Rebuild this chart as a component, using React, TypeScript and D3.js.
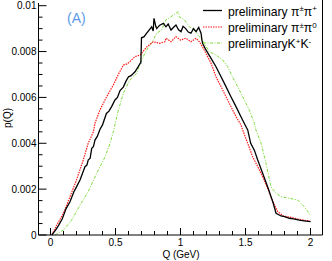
import React from "react";
import * as d3 from "d3";

// Q (GeV) and p(Q) for each series
const qPiPlus = [0.01,0.04,0.06,0.09,0.12,0.15,0.18,0.2,0.227,0.25,0.265,0.28,0.29,0.305,0.317,0.33,0.342,0.36,0.38,0.4,0.43,0.45,0.47,0.496,0.515,0.535,0.56,0.58,0.6,0.62,0.65,0.675,0.69,0.695,0.7,0.72,0.74,0.76,0.778,0.79,0.796,0.81,0.817,0.84,0.868,0.888,0.905,0.927,0.945,0.965,0.985,1.004,1.02,1.04,1.06,1.08,1.1,1.12,1.14,1.158,1.165,1.17,1.196,1.235,1.273,1.312,1.35,1.388,1.427,1.465,1.504,1.517,1.54,1.568,1.594,1.632,1.67,1.71,1.735,1.773,1.8,1.837,1.87,1.914,1.95,2.0];
const pPiPlus = [0,0.00022,0.0004,0.0007,0.00115,0.00145,0.00189,0.0021,0.0024,0.00275,0.00298,0.00305,0.00327,0.00335,0.00378,0.00385,0.00414,0.0043,0.0046,0.0048,0.0053,0.0054,0.0056,0.00589,0.006,0.0063,0.00645,0.0067,0.0069,0.00695,0.00712,0.00734,0.00749,0.0075,0.0086,0.00865,0.0088,0.00895,0.00908,0.0089,0.00945,0.0091,0.009,0.00915,0.00923,0.00908,0.0092,0.00894,0.00905,0.00916,0.00895,0.00887,0.0091,0.009,0.00885,0.0088,0.009,0.00887,0.00905,0.0088,0.0085,0.00836,0.00807,0.0077,0.00734,0.0069,0.00647,0.00603,0.0056,0.00516,0.00472,0.00458,0.004,0.0037,0.00327,0.00269,0.0021,0.00145,0.00095,0.00083,0.0008,0.00073,0.0007,0.00065,0.00062,0.00058];

const qPiZero = [0.01,0.05,0.1,0.15,0.2,0.252,0.29,0.33,0.342,0.38,0.432,0.483,0.52,0.56,0.585,0.61,0.65,0.69,0.74,0.79,0.84,0.88,0.888,0.927,0.965,1.0,1.04,1.08,1.12,1.145,1.17,1.196,1.235,1.273,1.312,1.35,1.388,1.427,1.465,1.478,1.517,1.555,1.594,1.632,1.67,1.71,1.748,1.79,1.85,1.914,2.0];
const pPiZero = [0,0.00045,0.00095,0.00167,0.0024,0.00327,0.004,0.0045,0.00487,0.00545,0.00603,0.00654,0.00698,0.00741,0.00745,0.00756,0.00778,0.00785,0.0082,0.00843,0.00836,0.00843,0.00858,0.00843,0.00865,0.0085,0.00858,0.00843,0.00858,0.00843,0.0082,0.00792,0.00749,0.0069,0.00647,0.00603,0.0056,0.00516,0.0048,0.00458,0.004,0.00341,0.00298,0.00254,0.00204,0.00145,0.00102,0.00083,0.00077,0.00068,0.0006];

const qKK = [0.035,0.1,0.163,0.227,0.29,0.355,0.42,0.458,0.483,0.52,0.56,0.61,0.663,0.7,0.74,0.778,0.817,0.855,0.888,0.927,0.965,0.983,0.99,1.03,1.068,1.106,1.145,1.183,1.222,1.273,1.325,1.363,1.4,1.44,1.478,1.53,1.568,1.58,1.62,1.658,1.696,1.735,1.773,1.837,1.9,1.952,2.0];
const pKK = [0,0.00022,0.00065,0.0013,0.00189,0.00269,0.00341,0.004,0.0045,0.0054,0.00618,0.00676,0.00705,0.00763,0.00807,0.00836,0.0088,0.00894,0.00938,0.00952,0.00967,0.00974,0.00952,0.00938,0.00908,0.00894,0.00865,0.00836,0.00799,0.00785,0.00763,0.00734,0.0069,0.00647,0.00603,0.00545,0.00487,0.00458,0.004,0.00312,0.0021,0.00182,0.00167,0.0016,0.00153,0.00123,0.00087];

const xMajorTicks = [0, 0.5, 1, 1.5, 2];
const xTickLabels = ["0", "0.5", "1", "1.5", "2"];
const yMajorTicks = [0, 0.002, 0.004, 0.006, 0.008, 0.01];
const yTickLabels = ["0", "0.002", "0.004", "0.006", "0.008", "0.01"];

export default function App() {
  const W = 332, H = 261;
  const left = 38.5, right = 322.5, bottom = 235, top = 3;
  const x = d3.scaleLinear().domain([0, 2]).range([50.5, 310.5]);
  const y = d3.scaleLinear().domain([0, 0.01]).range([235, 5.7]);

  const mk = (qs: number[], ps: number[]) =>
    d3.line<number>().x((_, i) => x(qs[i])).y((_, i) => y(ps[i]))(qs.map((_, i) => i)) || "";

  const xMinor = d3.range(0, 21).map((i) => i / 10).filter((v) => !xMajorTicks.some((m) => Math.abs(m - v) < 1e-9));
  const yMinor = d3.range(0, 21).map((i) => i * 0.0005).filter((v) => !yMajorTicks.some((m) => Math.abs(m - v) < 1e-9));
  const font = "'Liberation Sans', Arial, sans-serif";

  return (
    <svg width={W} height={H} style={{ position: "absolute", left: 0, top: 0, background: "#fff" }} fontFamily={font}>
      <rect x={0} y={0} width={W} height={H} fill="#fff" />
      {/* curves */}
      <path d={mk(qKK, pKK)} fill="none" stroke="#7ddc3a" strokeWidth={1} strokeDasharray="3,1.5,1,1.5" />
      <path d={mk(qPiZero, pPiZero)} fill="none" stroke="#ff1a1a" strokeWidth={1.2} strokeDasharray="1.5,1" />
      <path d={mk(qPiPlus, pPiPlus)} fill="none" stroke="#000" strokeWidth={1.3} />
      {/* frame */}
      <line x1={left} x2={left} y1={top} y2={bottom} stroke="#000" />
      <line x1={left} x2={right} y1={bottom} y2={bottom} stroke="#000" />
      <line x1={right} x2={right} y1={0} y2={bottom} stroke="#000" />
      {/* x ticks */}
      {xMajorTicks.map((v) => (
        <line key={"xM" + v} x1={x(v)} x2={x(v)} y1={bottom} y2={bottom - 7} stroke="#000" />
      ))}
      {xMinor.map((v) => (
        <line key={"xm" + v} x1={x(v)} x2={x(v)} y1={bottom} y2={bottom - 4} stroke="#000" />
      ))}
      {xMajorTicks.map((v, i) => (
        <text key={"xl" + v} x={x(v)} y={246} fontSize={10} textAnchor="middle">{xTickLabels[i]}</text>
      ))}
      {/* y ticks */}
      {yMajorTicks.map((v) => (
        <line key={"yM" + v} x1={left} x2={left + 8} y1={y(v)} y2={y(v)} stroke="#000" />
      ))}
      {yMinor.map((v) => (
        <line key={"ym" + v} x1={left} x2={left + 4} y1={y(v)} y2={y(v)} stroke="#000" />
      ))}
      {yMajorTicks.map((v, i) => (
        <text key={"yl" + v} x={36.5} y={y(v) + 3.6} fontSize={10} textAnchor="end">{yTickLabels[i]}</text>
      ))}
      {/* axis titles */}
      <text x={181} y={258} fontSize={10} textAnchor="middle">Q (GeV)</text>
      <text transform="translate(11,118) rotate(-90)" fontSize={10} textAnchor="middle">p(Q)</text>
      <text x={67} y={23} fontSize={14} fill="#5b9be8">(A)</text>
      {/* legend */}
      <line x1={203} x2={222} y1={10.5} y2={10.5} stroke="#000" strokeWidth={1.3} />
      <line x1={203} x2={222} y1={27} y2={27} stroke="#ff1a1a" strokeWidth={1.2} strokeDasharray="1.5,1" />
      <line x1={203} x2={222} y1={43} y2={43} stroke="#7ddc3a" strokeWidth={1} strokeDasharray="3,1.5,1,1.5" />
      <text x={228} y={15.5} fontSize={12.2}>
        preliminary π<tspan dy={-4.5} fontSize={8}>±</tspan><tspan dy={4.5}>π</tspan><tspan dy={-4.5} fontSize={8}>+</tspan>
      </text>
      <text x={228} y={32} fontSize={12.2}>
        preliminary π<tspan dy={-4.5} fontSize={8}>±</tspan><tspan dy={4.5}>π</tspan><tspan dy={-4.5} fontSize={8}>0</tspan>
      </text>
      <text x={228} y={48} fontSize={12.2}>
        preliminaryK<tspan dy={-4.5} fontSize={8}>+</tspan><tspan dy={4.5}>K</tspan><tspan dy={-4.5} fontSize={8}>-</tspan>
      </text>
    </svg>
  );
}
